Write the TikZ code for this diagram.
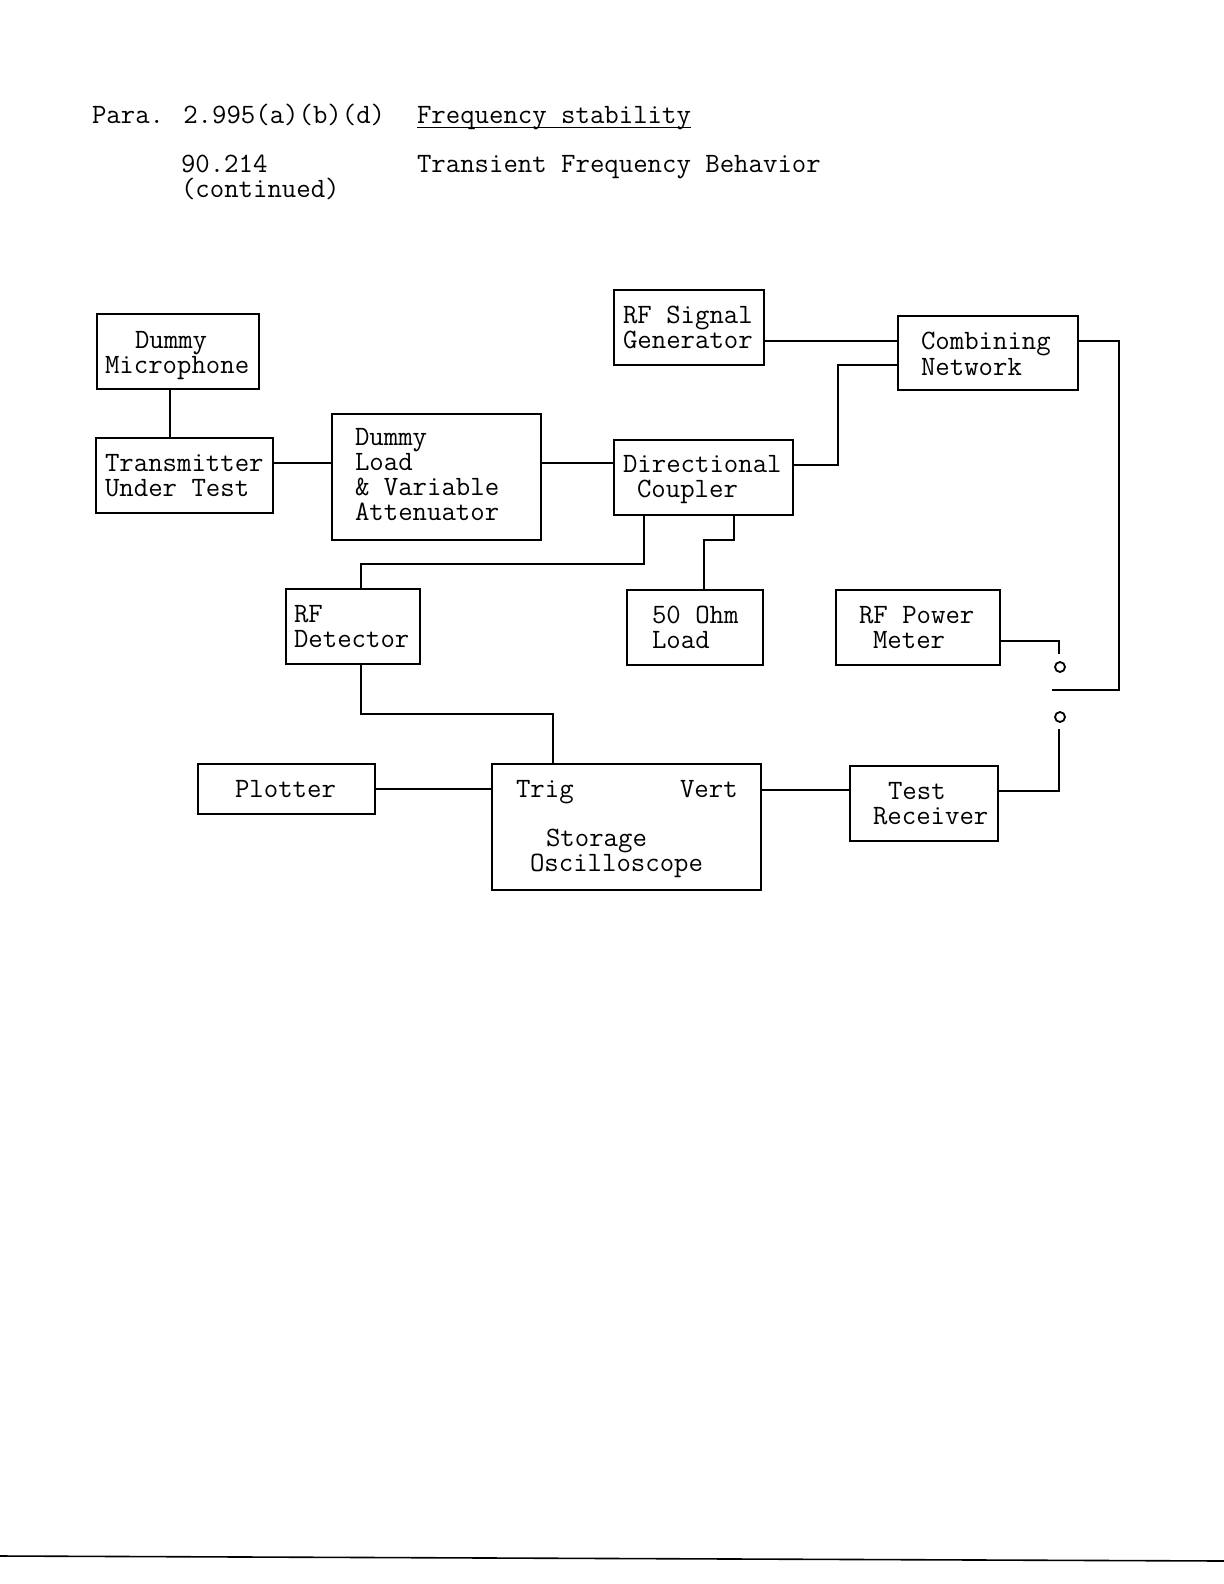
\documentclass[tikz,border=0pt]{standalone}
\begin{document}
\begin{tikzpicture}[x=0.5pt,y=-0.5pt,
  bx/.style 2 args={draw,line width=1pt,minimum width=#1*0.5pt,minimum height=#2*0.5pt,inner sep=0pt,outer sep=0pt},
  txt/.style={font=\fontsize{14}{17}\selectfont\ttfamily,anchor=base west,inner sep=0pt,outer sep=0pt},
  wire/.style={line width=1pt},
  sw/.style={draw,circle,line width=0.9pt,minimum size=5pt,inner sep=0pt}]
\useasboundingbox (0,0) rectangle (1224,1584);
\fill[white] (0,0) rectangle (1224,1584);

% header
\node[txt] (h1) at (92,124) {Para. 2.995(a)(b)(d)};
\node[txt] (ft) at (417,124) {Frequency stability};
\draw[line width=0.6pt] ([yshift=-1.8pt]ft.base west) -- ([yshift=-1.8pt]ft.base east);
\node[txt] (h2) at (181,172) {90.214};
\node[txt] (h3) at (181,197) {(continued)};
\node[txt] (h4) at (417,172) {Transient Frequency Behavior};

% boxes
\node[bx={162}{75}] (mic) at (178,351.5) {};
\node[bx={177}{75}] (tx) at (184.5,475.5) {};
\node[bx={209}{126}] (load) at (436.5,477) {};
\node[bx={179}{75}] (dc) at (703.5,477.5) {};
\node[bx={150}{75}] (sg) at (689,327.5) {};
\node[bx={180}{74}] (cn) at (988,353) {};
\node[bx={134}{75}] (det) at (353,626.5) {};
\node[bx={136}{75}] (ohm) at (695,627.5) {};
\node[bx={164}{75}] (pm) at (918,627.5) {};
\node[bx={177}{50}] (plot) at (286.5,789) {};
\node[bx={269}{126}] (osc) at (626.5,827) {};
\node[bx={148}{75}] (rx) at (924,803.5) {};

% box texts
\node[txt] (micA) at (135,348) {Dummy};
\node[txt] (micB) at (105,373) {Microphone};
\node[txt] (txA) at (105,471) {Transmitter};
\node[txt] (txB) at (105,496) {Under Test};
\node[txt] (loadA) at (355,445) {Dummy};
\node[txt] (loadB) at (355,470) {Load};
\node[txt] (loadC) at (355,495) {\& Variable};
\node[txt] (loadD) at (355,520) {Attenuator};
\node[txt] (dcA) at (623,472) {Directional};
\node[txt] (dcB) at (637,497) {Coupler};
\node[txt] (sgA) at (623,323) {RF Signal};
\node[txt] (sgB) at (623,348) {Generator};
\node[txt] (cnA) at (921,349) {Combining};
\node[txt] (cnB) at (921,375) {Network};
\node[txt] (detA) at (294,622) {RF};
\node[txt] (detB) at (294,647) {Detector};
\node[txt] (ohmA) at (652,623) {50 Ohm};
\node[txt] (ohmB) at (652,648) {Load};
\node[txt] (pmA) at (859,623) {RF Power};
\node[txt] (pmB) at (873,648) {Meter};
\node[txt] (plotA) at (235,797) {Plotter};
\node[txt] (oscA) at (516,797) {Trig};
\node[txt] (oscB) at (680,797) {Vert};
\node[txt] (oscC) at (546,846) {Storage};
\node[txt] (oscD) at (530,871) {Oscilloscope};
\node[txt] (rxA) at (888,799) {Test};
\node[txt] (rxB) at (873,824) {Receiver};

% switch contacts
\node[sw] (sw1) at (1060,667) {};
\node[sw] (sw2) at (1060,717) {};

% helper coordinates
\coordinate (k1) at (838,365);
\coordinate (k2) at (361,564);
\coordinate (k3) at (704,540);
\coordinate (k4) at (361,714);
\coordinate (k5) at (553,714);
\coordinate (k6) at (1119,690);
\coordinate (swC) at (1052,690);
\coordinate (swT) at (1059,654);
\coordinate (swB) at (1059,729);

% connectors
\draw[wire] ([xshift=-4pt]mic.south) -- ([xshift=-4pt]mic.south |- tx.north);
\draw[wire] ([yshift=6.25pt]tx.east) -- ([yshift=6.25pt]tx.east -| load.west);
\draw[wire] ([yshift=7pt]load.east) -- ([yshift=7pt]load.east -| dc.west);
\draw[wire] ([yshift=-6.75pt]sg.east) -- ([yshift=-6.75pt]sg.east -| cn.west);
\draw[wire] ([yshift=6.25pt]dc.east) -| (k1) -- (k1 -| cn.west);
\draw[wire] ([yshift=6pt]cn.east) -| (k6) -- (swC);
\draw[wire] ([yshift=-6.75pt]pm.east) -| (swT);
\draw[wire] ([yshift=6.25pt]rx.east) -| (swB);
\draw[wire] ([xshift=-29.75pt]dc.south) |- (k2) -- (k2 |- det.north);
\draw[wire] ([xshift=15.25pt]dc.south) |- (k3) -- (k3 |- ohm.north);
\draw[wire] (k4 |- det.south) -- (k4) -- (k5) -- (k5 |- osc.north);
\draw[wire] (plot.east) -- (plot.east -| osc.west);
\draw[wire] ([yshift=18.5pt]osc.east) -- ([yshift=18.5pt]osc.east -| rx.west);

% scan edge at bottom
\coordinate (scanL) at (0,1556);
\coordinate (scanR) at (1224,1561);
\draw[line width=0.8pt] (scanL) -- (scanR);
\end{tikzpicture}
\end{document}
